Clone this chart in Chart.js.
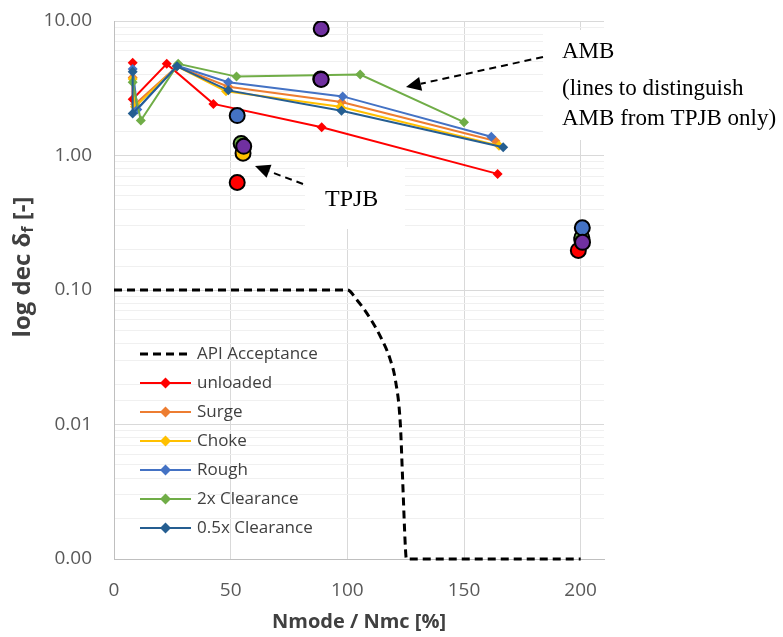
<!DOCTYPE html>
<html>
<head>
<meta charset="utf-8">
<script src="https://cdn.jsdelivr.net/npm/chart.js@4.4.0/dist/chart.umd.min.js"></script>
<style>
    html, body { margin: 0; padding: 0; background: #ffffff; }
    #wrap { width: 783px; height: 637px; }
</style>
</head>
<body>
<div id="wrap"><canvas id="dampingChart" width="783" height="637"></canvas></div>
<script>
// --- Datos ---
const xTicks = [0, 50, 100, 150, 200];
const yDecades = [0.001, 0.01, 0.1, 1, 10];

// Curva de aceptación API
const apiX = [0, 100, 104.2, 108.4, 114.2, 118.5, 120.6, 122.7, 123.7, 124.9, 125.3, 200];
const apiY = [0.1, 0.1, 0.084, 0.067, 0.045, 0.030, 0.0214, 0.0102, 0.0039, 0.0012, 0.001, 0.001];

// Series AMB (líneas con rombos)
const unloadedX = [8, 8, 22.6, 42.6, 89, 164.4];
const unloadedY = [4.9, 2.62, 4.8, 2.42, 1.62, 0.73];
const surgeX = [8, 9, 27, 49, 97.5, 163.5];
const surgeY = [3.8, 2.4, 4.6, 3.25, 2.5, 1.28];
const chokeX = [8, 9, 27, 48, 97, 165];
const chokeY = [3.7, 2.3, 4.6, 3.0, 2.3, 1.18];
const roughX = [8, 10, 27, 49, 98, 161.7];
const roughY = [4.4, 2.2, 4.65, 3.5, 2.75, 1.38];
const clear2X = [8, 11.5, 27.5, 52.5, 105.5, 150];
const clear2Y = [3.5, 1.82, 4.8, 3.86, 4.0, 1.77];
const clear05X = [8, 8, 27, 49, 97.5, 166.8];
const clear05Y = [4.2, 2.05, 4.6, 3.05, 2.15, 1.15];

// Puntos TPJB (círculos)
const tpjbRedX = [52.8, 199];
const tpjbRedY = [0.63, 0.197];
const tpjbYellowX = [55.3, 200.5];
const tpjbYellowY = [1.04, 0.235];
const tpjbGreenX = [54.5, 88.6, 200.5];
const tpjbGreenY = [1.23, 3.7, 0.245];
const tpjbBlueX = [52.8, 200.7];
const tpjbBlueY = [1.98, 0.29];
const tpjbPurpleX = [55.6, 88.8, 88.8, 200.8];
const tpjbPurpleY = [1.17, 8.76, 3.68, 0.226];

const toPoints = (xs, ys) => xs.map((x, i) => ({ x: x, y: ys[i] }));

const isDecade = (v) => Math.abs(Math.log10(v) - Math.round(Math.log10(v))) < 1e-6;

document.addEventListener('DOMContentLoaded', () => {

    function ambSeries(label, xs, ys, color, order) {
        return {
            label: label,
            data: toPoints(xs, ys),
            borderColor: color,
            backgroundColor: color,
            borderWidth: 2,
            pointStyle: 'rectRot',
            pointRadius: 5,
            pointBorderWidth: 0,
            showLine: true,
            order: order,
            inLegend: true
        };
    }

    function tpjbSeries(label, xs, ys, color, order) {
        return {
            label: label,
            data: toPoints(xs, ys),
            backgroundColor: color,
            borderColor: '#000000',
            pointBorderColor: '#000000',
            pointBorderWidth: 2,
            pointRadius: 7.5,
            showLine: false,
            order: order,
            inLegend: false
        };
    }

    const datasets = [
        {
            label: 'API Acceptance',
            data: toPoints(apiX, apiY),
            borderColor: '#000000',
            backgroundColor: '#000000',
            borderWidth: 3,
            borderDash: [8, 5],
            pointRadius: 0,
            showLine: true,
            cubicInterpolationMode: 'monotone',
            clip: false,
            order: 8,
            inLegend: true,
            dashed: true
        },
        ambSeries('unloaded', unloadedX, unloadedY, '#FF0000', 7),
        ambSeries('Surge', surgeX, surgeY, '#ED7D31', 6),
        ambSeries('Choke', chokeX, chokeY, '#FFC000', 5),
        ambSeries('Rough', roughX, roughY, '#4472C4', 4),
        ambSeries('2x Clearance', clear2X, clear2Y, '#70AD47', 3),
        ambSeries('0.5x Clearance', clear05X, clear05Y, '#255E91', 2),
        tpjbSeries('TPJB unloaded', tpjbRedX, tpjbRedY, '#FF0000', -1),
        tpjbSeries('TPJB Choke', tpjbYellowX, tpjbYellowY, '#FFC000', -2),
        tpjbSeries('TPJB 2x Clearance', tpjbGreenX, tpjbGreenY, '#70AD47', -3),
        tpjbSeries('TPJB Rough', tpjbBlueX, tpjbBlueY, '#4472C4', -4),
        tpjbSeries('TPJB 0.5x Clearance', tpjbPurpleX, tpjbPurpleY, '#7030A0', -5)
    ];

    // Cajas blancas detrás de las anotaciones
    const whiteBoxes = {
        id: 'whiteBoxes',
        beforeDatasetsDraw(chart) {
            const c = chart.ctx;
            c.save();
            c.fillStyle = '#ffffff';
            c.fillRect(543, 30, 240, 110);
            c.fillRect(305, 167, 100, 62);
            c.restore();
        }
    };

    function arrow(c, x1, y1, x2, y2) {
        c.save();
        c.strokeStyle = '#000000';
        c.fillStyle = '#000000';
        c.lineWidth = 2;
        c.setLineDash([7, 5]);
        const a = Math.atan2(y2 - y1, x2 - x1);
        const hl = 15;
        c.beginPath();
        c.moveTo(x1, y1);
        c.lineTo(x2 - hl * Math.cos(a), y2 - hl * Math.sin(a));
        c.stroke();
        c.setLineDash([]);
        c.beginPath();
        c.moveTo(x2, y2);
        c.lineTo(x2 - hl * Math.cos(a) + 7 * Math.sin(a), y2 - hl * Math.sin(a) - 7 * Math.cos(a));
        c.lineTo(x2 - hl * Math.cos(a) - 7 * Math.sin(a), y2 - hl * Math.sin(a) + 7 * Math.cos(a));
        c.closePath();
        c.fill();
        c.restore();
    }

    // Títulos de ejes, leyenda interna y anotaciones
    const extras = {
        id: 'extras',
        afterDraw(chart) {
            const c = chart.ctx;
            const area = chart.chartArea;
            c.save();

            // título eje X
            c.fillStyle = '#404040';
            c.font = 'bold 20px "Open Sans"';
            c.textAlign = 'center';
            c.textBaseline = 'middle';
            c.fillText('Nmode / Nmc [%]', (area.left + area.right) / 2, 622);

            // título eje Y con subíndice
            c.save();
            c.translate(23, 267);
            c.rotate(-Math.PI / 2);
            const big = 'bold 24px "Open Sans"';
            const small = 'bold 16px "Open Sans"';
            c.font = big;
            const w1 = c.measureText('log dec δ').width;
            const w3 = c.measureText(' [-]').width;
            c.font = small;
            const w2 = c.measureText('f').width;
            let x0 = -(w1 + w2 + w3) / 2;
            c.textAlign = 'left';
            c.font = big;
            c.fillText('log dec δ', x0, 0);
            c.font = small;
            c.fillText('f', x0 + w1, 5);
            c.font = big;
            c.fillText(' [-]', x0 + w1 + w2, 0);
            c.restore();

            // leyenda
            c.font = '17px "Open Sans"';
            c.textAlign = 'left';
            c.textBaseline = 'middle';
            let row = 0;
            chart.data.datasets.forEach(ds => {
                if (!ds.inLegend) return;
                const y = 354 + row * 29;
                c.save();
                c.strokeStyle = ds.borderColor;
                c.lineWidth = ds.dashed ? 3 : 2;
                c.setLineDash(ds.dashed ? [8, 5] : []);
                c.beginPath();
                c.moveTo(140, y);
                c.lineTo(191, y);
                c.stroke();
                c.restore();
                if (!ds.dashed) {
                    c.fillStyle = ds.backgroundColor;
                    c.beginPath();
                    c.moveTo(165.5, y - 5.5);
                    c.lineTo(171, y);
                    c.lineTo(165.5, y + 5.5);
                    c.lineTo(160, y);
                    c.closePath();
                    c.fill();
                }
                c.fillStyle = '#404040';
                c.fillText(ds.label, 197, y);
                row++;
            });

            // anotaciones
            c.fillStyle = '#000000';
            c.font = '23px "Liberation Serif"';
            c.fillText('AMB', 562, 52);
            c.fillText('(lines to distinguish', 562, 89);
            c.fillText('AMB from TPJB only)', 562, 119);
            c.font = '24px "Liberation Serif"';
            c.fillText('TPJB', 325, 200);
            arrow(c, 543, 57, 406, 87);
            arrow(c, 303, 184, 255, 166);

            c.restore();
        }
    };

    const ctx = document.getElementById('dampingChart').getContext('2d');
    new Chart(ctx, {
        type: 'scatter',
        data: { datasets: datasets },
        options: {
            responsive: false,
            animation: false,
            devicePixelRatio: 1,
            layout: { padding: { top: 21, right: 179, left: 0, bottom: 0 } },
            plugins: {
                legend: { display: false },
                tooltip: { enabled: false }
            },
            scales: {
                x: {
                    type: 'linear',
                    min: 0,
                    max: 210,
                    afterFit: (scale) => {
                        scale.height = 78;
                        scale.paddingLeft = 0;
                        scale.paddingRight = 0;
                    },
                    afterBuildTicks: (scale) => { scale.ticks = xTicks.map(v => ({ value: v })); },
                    grid: { color: '#d9d9d9', lineWidth: 1, drawTicks: false },
                    border: { color: '#bfbfbf', width: 1 },
                    ticks: {
                        padding: 20,
                        color: '#595959',
                        font: { family: 'Open Sans', size: 19 },
                        maxRotation: 0
                    }
                },
                y: {
                    type: 'logarithmic',
                    min: 0.001,
                    max: 10,
                    afterFit: (scale) => {
                        scale.width = 114;
                        scale.paddingTop = 0;
                        scale.paddingBottom = 0;
                    },
                    grid: {
                        drawTicks: false,
                        lineWidth: 1,
                        color: (c) => (c.tick && isDecade(c.tick.value)) ? '#d9d9d9' : '#f0f0f0'
                    },
                    border: { color: '#bfbfbf', width: 1 },
                    ticks: {
                        autoSkip: false,
                        padding: 22,
                        color: '#595959',
                        font: { family: 'Open Sans', size: 19 },
                        callback: (v) => {
                            if (!isDecade(v)) return '';
                            const d = yDecades.find(t => Math.abs(t - v) / t < 1e-6);
                            return d !== undefined ? d.toFixed(2) : '';
                        }
                    }
                }
            }
        },
        plugins: [whiteBoxes, extras]
    });
});
</script>
</body>
</html>
